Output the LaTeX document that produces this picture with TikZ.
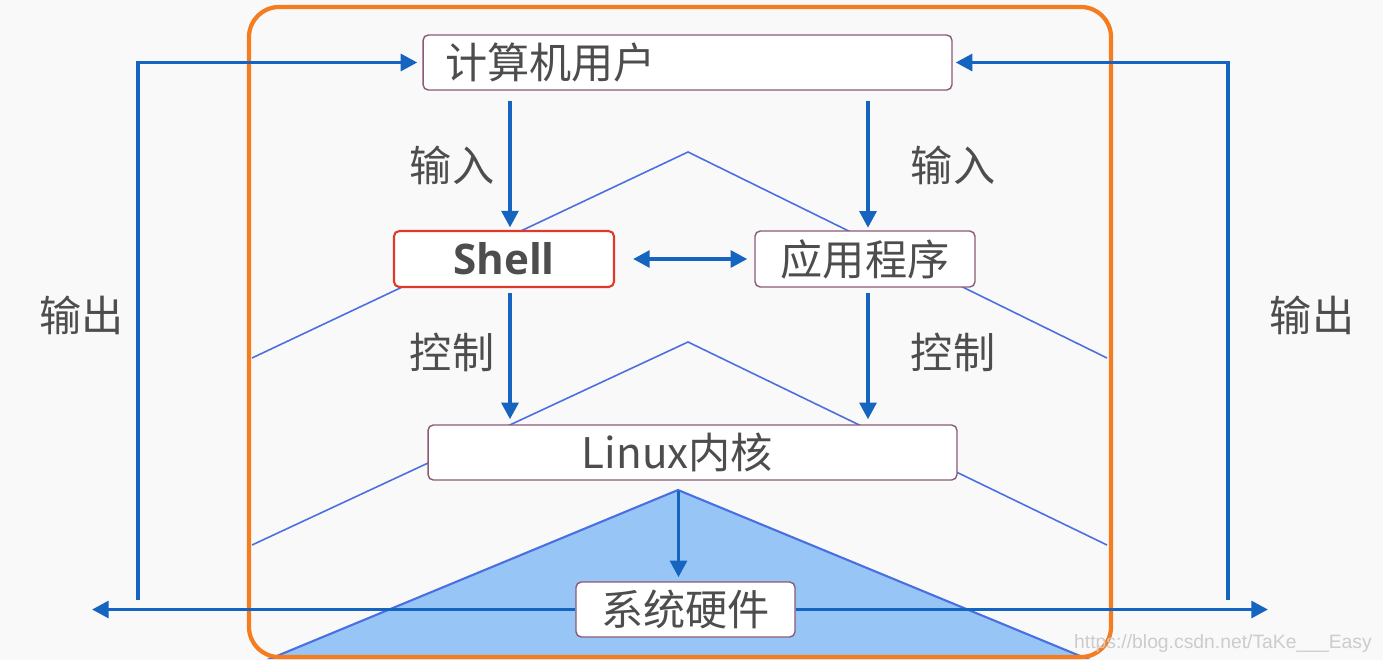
\documentclass[tikz,border=0pt]{standalone}
\usepackage{fontspec}
\setmainfont{Noto Sans CJK SC}
\newfontfamily\shellfont{Open Sans}
\newfontfamily\markfont{Liberation Sans}
\usetikzlibrary{positioning, calc, arrows.meta}

\definecolor{flowblue}{HTML}{1565C0}
\definecolor{lineblue}{HTML}{4A6FE0}
\definecolor{triblue}{HTML}{97C6F6}
\definecolor{frameorange}{HTML}{F57C1F}
\definecolor{boxedge}{HTML}{8C5A78}
\definecolor{shellred}{HTML}{E0392B}
\definecolor{txtgray}{HTML}{4D4D4D}

\tikzset{
    layerbox/.style={draw=boxedge, line width=0.8pt, fill=white, rounded corners=3pt,
        text=txtgray, font=\fontsize{24}{28}\selectfont, inner sep=0pt},
    flow/.style={draw=flowblue, line width=2.2pt, -{Triangle[length=9.5pt,width=9.5pt]}},
    tag/.style={text=txtgray, font=\fontsize{24}{28}\selectfont},
    chevron/.style={draw=lineblue, line width=0.9pt},
}

\begin{document}
\begin{tikzpicture}[x=0.02cm, y=-0.02cm]
    \useasboundingbox (0,0) rectangle (1383,660);
    \fill[gray!5] (0,0) rectangle (1383,660);

    \draw[chevron] (252,358) -- (688,152) -- (1107,358);
    \draw[chevron] (252,545) -- (688,342) -- (1107,545);
    \fill[triblue, draw=lineblue, line width=1.2pt] (678,490) -- (1085,658) -- (272,658) -- cycle;

    \draw[frameorange, line width=2.4pt, rounded corners=0.6cm] (249,7) rectangle (1111,657);

    \node[layerbox, minimum width=10.58cm, minimum height=1.1cm, text width=9.7cm, align=left]
        (usr) at (687.5,62.5) {计算机用户};
    \node[layerbox, draw=shellred, line width=1.2pt, minimum width=4.4cm, minimum height=1.12cm,
        font=\shellfont\bfseries\fontsize{24}{28}\selectfont] (shell) at (504,259) {Shell};
    \node[layerbox, minimum width=4.4cm, minimum height=1.12cm] (app) at (865,259) {应用程序};
    \node[layerbox, minimum width=10.58cm, minimum height=1.1cm] (kern) at (692.5,452.5)
        {Linux内核\hspace*{0.6cm}};
    \node[layerbox, minimum width=4.38cm, minimum height=1.1cm] (hw) at (685.5,609.5) {系统硬件};

    \coordinate (lb) at (138,600);
    \coordinate (rb) at (1228,600);
    \coordinate (ol) at (92,609.5);
    \coordinate (or) at (1268,609.5);

    \draw[flow, shorten <=0.2cm, shorten >=0.05cm] ([xshift=0.12cm]usr.south -| shell) -- ([xshift=0.12cm]shell.north);
    \draw[flow, shorten <=0.2cm, shorten >=0.05cm] ([xshift=0.06cm]usr.south -| app) -- ([xshift=0.06cm]app.north);
    \draw[flow, shorten <=0.1cm, shorten >=0.1cm] ([xshift=0.12cm]shell.south) -- ([xshift=0.12cm]kern.north -| shell);
    \draw[flow, shorten <=0.1cm, shorten >=0.1cm] ([xshift=0.06cm]app.south) -- ([xshift=0.06cm]kern.north -| app);
    \draw[flow, {Triangle[length=9.5pt,width=9.5pt]}-{Triangle[length=9.5pt,width=9.5pt]},
        shorten <=0.36cm, shorten >=0.14cm] (shell.east) -- (app.west);
    \draw[flow, shorten <=0.2cm, shorten >=0.08cm] ([xshift=-0.14cm]kern.south -| hw) -- ([xshift=-0.14cm]hw.north);
    \draw[flow, shorten >=0.1cm] (lb) |- (usr.west);
    \draw[flow, shorten >=0.06cm] (rb) |- (usr.east);
    \draw[flow] (hw.west) -- (ol);
    \draw[flow] (hw.east) -- (or);

    \node[tag] (in1) at (452,165) {输入};
    \node[tag] (in2) at (953,165) {输入};
    \node[tag] (ctl1) at (452,352) {控制};
    \node[tag] (ctl2) at (953,352) {控制};
    \node[tag] (out1) at (82,315) {输出};
    \node[tag] (out2) at (1312,315) {输出};

    \node[text=gray!40, font=\markfont\fontsize{11}{13}\selectfont, anchor=east] (mark) at (1378,643)
        {https://blog.csdn.net/TaKe\_\_\_Easy};
\end{tikzpicture}
\end{document}
